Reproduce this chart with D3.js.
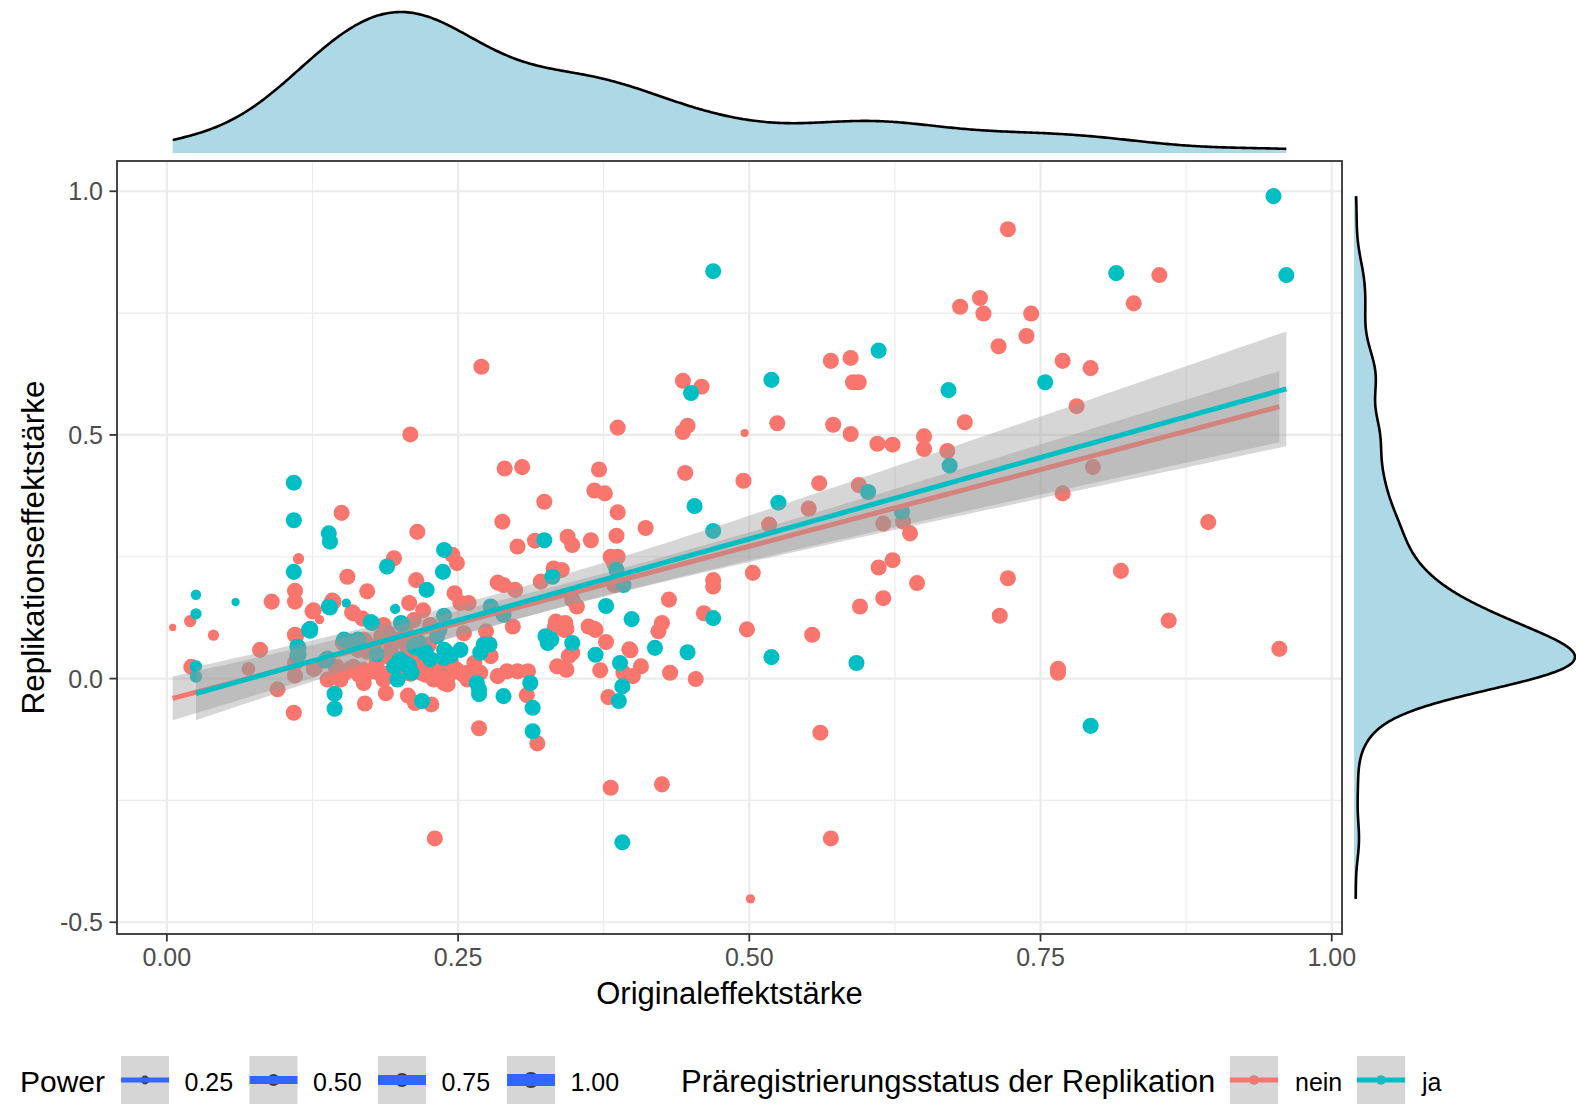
<!DOCTYPE html>
<html>
<head>
<meta charset="utf-8">
<script src="https://cdn.jsdelivr.net/npm/d3@7"></script>
<style>
  html, body { margin: 0; padding: 0; background: #ffffff; }
  svg { display: block; font-family: "Liberation Sans", Arial, Helvetica, sans-serif; }
</style>
</head>
<body>
<svg id="chart" width="1576" height="1104"></svg>
<script>
// Studies without a preregistered replication: [original effect, replication effect, power]
const neinPoints = [
  [0.005,0.105,0.16],[0.020,0.118,0.54],[0.040,0.089,0.44],[0.021,0.024,1],[0.070,0.020,0.7],
  [0.080,0.059,1],[0.090,0.158,1],[0.095,-0.022,1],[0.113,0.246,0.44],[0.110,0.180,1],
  [0.110,0.158,1],[0.110,0.090,1],[0.110,0.032,1],[0.110,0.006,1],[0.109,-0.070,1],
  [0.125,0.138,1],[0.131,0.121,0.28],[0.126,0.020,1],[0.150,0.340,1],[0.142,0.160,1],
  [0.138,-0.002,1],[0.155,0.209,1],[0.159,0.136,1],[0.168,0.123,1],[0.172,0.179,1],
  [0.151,0.073,1],[0.169,0.080,1],[0.164,0.059,1],[0.145,0.022,1],[0.158,0.018,1],
  [0.169,0.018,1],[0.149,-0.002,1],[0.169,-0.009,1],[0.172,0.055,1],[0.184,0.087,1],
  [0.190,0.093,1],[0.195,0.247,1],[0.215,0.301,1],[0.208,0.155,1],[0.214,0.202,1],
  [0.212,0.120,1],[0.204,0.073,1],[0.192,0.059,1],[0.186,-0.002,1],[0.198,0.018,1],
  [0.188,-0.030,1],[0.207,-0.035,1],[0.213,-0.050,1],[0.227,-0.053,1],[0.224,0.018,1],
  [0.229,-0.002,1],[0.238,-0.009,1],[0.245,0.254,1],[0.249,0.237,1],[0.247,0.175,1],
  [0.252,0.155,1],[0.259,0.155,1],[0.255,0.093,1],[0.244,0.032,1],[0.249,0.018,1],
  [0.258,-0.002,1],[0.268,-0.102,1],[0.284,0.197,1],[0.288,0.322,1],[0.290,0.431,1],
  [0.305,0.434,1],[0.301,0.271,1],[0.316,0.283,1],[0.324,0.363,1],[0.299,0.182,1],
  [0.274,0.097,1],[0.278,0.046,1],[0.297,0.107,1],[0.284,0.005,1],[0.292,0.015,1],
  [0.301,0.015,1],[0.310,0.015,1],[0.309,-0.034,1],[0.318,-0.133,1],[0.321,0.199,1],
  [0.371,0.429,1],[0.367,0.386,1],[0.376,0.380,1],[0.387,0.341,1],[0.411,0.309,1],
  [0.386,0.293,1],[0.344,0.291,1],[0.348,0.274,1],[0.364,0.284,1],[0.381,0.250,1],
  [0.387,0.250,1],[0.384,0.236,1],[0.384,0.192,1],[0.332,0.226,1],[0.339,0.223,1],
  [0.289,0.192,1],[0.348,0.162,1],[0.352,0.148,1],[0.431,0.162,1],[0.425,0.114,1],
  [0.422,0.097,1],[0.334,0.117,1],[0.342,0.114,1],[0.333,0.105,1],[0.341,0.100,1],
  [0.362,0.107,1],[0.368,0.100,1],[0.348,0.053,1],[0.345,0.046,1],[0.343,0.018,1],
  [0.377,0.075,1],[0.372,0.017,1],[0.398,0.058,1],[0.407,0.025,1],[0.392,0.012,1],
  [0.400,0.005,1],[0.379,-0.038,1],[0.432,0.012,1],[0.454,-0.001,1],[0.443,0.611,1],
  [0.459,0.599,1],[0.443,0.506,1],[0.447,0.519,1],[0.387,0.515,1],[0.445,0.422,1],
  [0.496,0.504,0.21],[0.495,0.406,1],[0.524,0.524,1],[0.503,0.217,1],[0.469,0.202,1],
  [0.469,0.189,1],[0.461,0.134,1],[0.498,0.101,1],[0.517,0.316,1],[0.551,0.349,1],
  [0.560,0.401,1],[0.570,0.652,1],[0.587,0.658,1],[0.589,0.608,1],[0.594,0.608,1],
  [0.572,0.521,1],[0.587,0.502,1],[0.610,0.482,1],[0.623,0.480,1],[0.650,0.497,1],
  [0.650,0.471,1],[0.670,0.467,1],[0.594,0.397,1],[0.615,0.318,1],[0.632,0.322,1],
  [0.638,0.298,1],[0.611,0.228,1],[0.623,0.243,1],[0.644,0.196,1],[0.595,0.148,1],
  [0.615,0.165,1],[0.554,0.090,1],[0.561,-0.111,1],[0.722,0.922,1],[0.852,0.828,1],
  [0.830,0.770,1],[0.681,0.763,1],[0.698,0.781,1],[0.701,0.749,1],[0.742,0.749,1],
  [0.738,0.703,1],[0.714,0.682,1],[0.769,0.652,1],[0.793,0.637,1],[0.781,0.559,1],
  [0.685,0.526,1],[0.795,0.434,1],[0.769,0.380,1],[0.894,0.321,1],[0.819,0.221,1],
  [0.722,0.206,1],[0.715,0.129,1],[0.860,0.119,1],[0.955,0.061,1],[0.765,0.020,1],
  [0.765,0.012,1],[0.270,0.640,1],[0.209,0.501,1],[0.170,-0.051,1],[0.381,-0.224,1],
  [0.425,-0.217,1],[0.230,-0.328,1],[0.501,-0.452,0.28],[0.570,-0.328,1],[0.205,0.097,1],
  [0.226,0.110,1],[0.172,0.012,1],[0.182,0.012,1],[0.192,0.012,1],[0.204,0.012,1],
  [0.218,0.012,1],[0.232,0.012,1],[0.244,0.012,1],[0.258,0.012,1],[0.269,0.012,1],
  [0.236,0.001,1],[0.254,0.009,1],[0.264,0.032,1],[0.335,0.025,1],[0.241,-0.012,1],
  [0.176,0.015,1],[0.187,0.010,1],[0.197,0.006,1],[0.209,0.010,1],[0.213,0.022,1],
  [0.222,0.008,1],[0.227,0.025,1],[0.238,0.018,1],[0.241,0.004,1],[0.160,0.024,1],
  [0.165,0.008,1],[0.153,0.012,1],[0.180,0.030,1],[0.200,0.034,1],[0.216,0.040,1],
  [0.231,0.036,1],[0.190,0.045,1],[0.207,0.055,1],[0.178,0.066,1],[0.225,0.070,1],
  [0.343,0.102,1],[0.397,0.060,1],[0.367,0.102,1],[0.186,0.110,1],[0.220,0.140,1],
  [0.196,0.080,1],[0.126,0.140,1],[0.143,0.158,1],[0.160,0.134,1],[0.152,0.075,1],
  [0.165,0.061,1],[0.170,0.078,1],[0.146,0.024,1],[0.157,0.020,1],[0.127,0.022,1],
  [0.111,0.088,1],[0.111,0.034,1]
];

// Studies with a preregistered replication: [original effect, replication effect, power]
const jaPoints = [
  [0.025,0.172,0.36],[0.025,0.133,0.44],[0.059,0.157,0.21],[0.025,0.025,0.54],[0.025,0.004,0.54],
  [0.109,0.402,1],[0.109,0.325,1],[0.109,0.219,1],[0.122,0.100,1],[0.137,0.039,1],
  [0.139,0.298,1],[0.140,0.281,1],[0.139,0.148,1],[0.154,0.155,0.28],[0.144,-0.031,1],
  [0.144,-0.062,1],[0.175,0.116,1],[0.152,0.080,1],[0.158,0.076,1],[0.189,0.230,1],
  [0.196,0.143,0.36],[0.201,0.114,1],[0.223,0.182,1],[0.212,0.066,1],[0.204,0.032,1],
  [0.195,0.025,1],[0.207,0.025,1],[0.198,-0.002,1],[0.219,-0.046,1],[0.221,0.053,1],
  [0.238,0.264,1],[0.237,0.219,1],[0.238,0.129,1],[0.232,0.087,1],[0.238,0.059,1],
  [0.238,0.042,1],[0.252,0.059,1],[0.268,-0.022,1],[0.268,-0.032,1],[0.272,0.070,1],
  [0.277,0.070,1],[0.269,0.053,1],[0.289,-0.036,1],[0.312,-0.009,1],[0.314,-0.060,1],
  [0.314,-0.108,1],[0.325,0.087,1],[0.324,0.284,1],[0.289,0.131,1],[0.377,0.149,1],
  [0.399,0.122,1],[0.419,0.063,1],[0.327,0.073,1],[0.348,0.073,1],[0.368,0.049,1],
  [0.389,0.032,1],[0.391,-0.016,1],[0.388,-0.046,1],[0.447,0.054,1],[0.450,0.586,1],
  [0.453,0.354,1],[0.469,0.303,1],[0.519,0.613,1],[0.525,0.361,1],[0.469,0.124,1],
  [0.519,0.044,1],[0.611,0.673,1],[0.671,0.592,1],[0.672,0.437,1],[0.602,0.383,1],
  [0.631,0.342,1],[0.592,0.032,1],[0.950,0.990,1],[0.815,0.832,1],[0.961,0.828,1],
  [0.754,0.608,1],[0.793,-0.097,1],[0.391,-0.336,1],[0.469,0.836,1],[0.278,0.148,1],
  [0.266,-0.009,1],[0.112,0.066,1],[0.112,0.047,1],[0.386,0.223,1],[0.392,0.192,1],
  [0.331,0.209,1],
  [0.200,0.040,1],[0.210,0.012,1],[0.226,0.040,1],[0.244,0.048,1],[0.216,0.075,1],
  [0.180,0.050,1],[0.164,0.080,1],[0.330,0.080,1],[0.234,0.100,1],[0.123,0.098,1],
  [0.138,0.041,1],[0.153,0.078,1],[0.159,0.074,1],[0.176,0.114,1],[0.196,0.027,1],
  [0.205,0.030,1],[0.208,0.027,1],[0.202,0.112,1],[0.213,0.064,1],[0.140,0.146,1],
  [0.113,0.064,1],[0.113,0.049,1],[0.222,0.055,1],[0.239,0.057,1],[0.123,0.102,1],
  [0.136,0.037,1]
];

const groupNames = ["nein", "ja"];
const groupColors = ["#F8766D", "#00BFC4"];

const xTicks = [0, 0.25, 0.5, 0.75, 1];
const xTickLabels = ["0.00", "0.25", "0.50", "0.75", "1.00"];
const xMinorTicks = [0.125, 0.375, 0.625, 0.875];
const yTicks = [-0.5, 0, 0.5, 1];
const yTickLabels = ["-0.5", "0.0", "0.5", "1.0"];
const yMinorTicks = [-0.25, 0.25, 0.75];

const powerBreaks = [0.25, 0.5, 0.75, 1];
const powerLabels = ["0.25", "0.50", "0.75", "1.00"];
const powerLimits = [0.05, 1];

const xTitle = "Originaleffektstärke";
const yTitle = "Replikationseffektstärke";
const powerTitle = "Power";
const groupTitle = "Präregistrierungsstatus der Replikation";

// ---------------------------------------------------------------- layout
const W = 1576, H = 1104;
const panel = { left: 117, right: 1342, top: 161, bottom: 934 };
const topMargin = { base: 153, peak: 12 };
const rightMargin = { base: 1354, peak: 1575 };

const svg = d3.select("#chart");
svg.append("rect").attr("width", W).attr("height", H).attr("fill", "#ffffff");

const groups = [neinPoints, jaPoints].map((pts, g) =>
  pts.map(([x, y, p]) => ({ x, y, p, g })));
const all = groups.flat();

// ggplot-style 5% expansion of the data range
function expand([a, b]) { const d = (b - a) * 0.05; return [a - d, b + d]; }
const x = d3.scaleLinear().domain(expand(d3.extent(all, d => d.x))).range([panel.left, panel.right]);
const y = d3.scaleLinear().domain(expand(d3.extent(all, d => d.y))).range([panel.bottom, panel.top]);

// area-proportional size scale (ggplot size units), then to pixels
const sizeUnits = p => 1 + 5 * Math.sqrt(Math.max(0, (p - powerLimits[0]) / (powerLimits[1] - powerLimits[0])));
const radius = p => sizeUnits(p) * 1.34;

// ---------------------------------------------------------------- grid
const grid = svg.append("g");
grid.selectAll(".xminor").data(xMinorTicks).join("line")
  .attr("x1", d => x(d)).attr("x2", d => x(d)).attr("y1", panel.top).attr("y2", panel.bottom)
  .attr("stroke", "#EBEBEB").attr("stroke-width", 1.1);
grid.selectAll(".yminor").data(yMinorTicks).join("line")
  .attr("y1", d => y(d)).attr("y2", d => y(d)).attr("x1", panel.left).attr("x2", panel.right)
  .attr("stroke", "#EBEBEB").attr("stroke-width", 1.1);
grid.selectAll(".xmajor").data(xTicks).join("line")
  .attr("x1", d => x(d)).attr("x2", d => x(d)).attr("y1", panel.top).attr("y2", panel.bottom)
  .attr("stroke", "#EBEBEB").attr("stroke-width", 2.2);
grid.selectAll(".ymajor").data(yTicks).join("line")
  .attr("y1", d => y(d)).attr("y2", d => y(d)).attr("x1", panel.left).attr("x2", panel.right)
  .attr("stroke", "#EBEBEB").attr("stroke-width", 2.2);

svg.append("clipPath").attr("id", "panelClip").append("rect")
  .attr("x", panel.left).attr("y", panel.top)
  .attr("width", panel.right - panel.left).attr("height", panel.bottom - panel.top);
const plot = svg.append("g").attr("clip-path", "url(#panelClip)");

// ---------------------------------------------------------------- points
plot.append("g").selectAll("circle").data(all).join("circle")
  .attr("cx", d => x(d.x)).attr("cy", d => y(d.y)).attr("r", d => radius(d.p))
  .attr("fill", d => groupColors[d.g]);

// ---------------------------------------------------------------- linear fits with 95% band
function tQuantile975(df) {
  const z = 1.959964;
  return z + (z ** 3 + z) / (4 * df) + (5 * z ** 5 + 16 * z ** 3 + 3 * z) / (96 * df * df);
}
function linearFit(pts) {
  const n = pts.length;
  const mx = d3.mean(pts, d => d.x), my = d3.mean(pts, d => d.y);
  const sxx = d3.sum(pts, d => (d.x - mx) ** 2);
  const sxy = d3.sum(pts, d => (d.x - mx) * (d.y - my));
  const b = sxy / sxx, a = my - b * mx;
  const sse = d3.sum(pts, d => (d.y - a - b * d.x) ** 2);
  const s = Math.sqrt(sse / (n - 2));
  const t = tQuantile975(n - 2);
  const [lo, hi] = d3.extent(pts, d => d.x);
  return d3.range(80).map(i => {
    const xv = lo + (hi - lo) * i / 79;
    const fit = a + b * xv;
    const se = s * Math.sqrt(1 / n + (xv - mx) ** 2 / sxx);
    return { x: xv, fit, lo: fit - t * se, hi: fit + t * se };
  });
}

const ribbon = d3.area().x(d => x(d.x)).y0(d => y(d.lo)).y1(d => y(d.hi));
const fitLine = d3.line().x(d => x(d.x)).y(d => y(d.fit));
groups.forEach((pts, g) => {
  const curve = linearFit(pts);
  plot.append("path").attr("d", ribbon(curve)).attr("fill", "#999999").attr("fill-opacity", 0.4);
  plot.append("path").attr("d", fitLine(curve)).attr("fill", "none")
    .attr("stroke", groupColors[g]).attr("stroke-width", 5);
});

// ---------------------------------------------------------------- panel border and axes
svg.append("rect").attr("x", panel.left).attr("y", panel.top)
  .attr("width", panel.right - panel.left).attr("height", panel.bottom - panel.top)
  .attr("fill", "none").attr("stroke", "#333333").attr("stroke-width", 1.8);

const axes = svg.append("g");
axes.selectAll(".xt").data(xTicks).join("line")
  .attr("x1", d => x(d)).attr("x2", d => x(d)).attr("y1", panel.bottom).attr("y2", panel.bottom + 7.5)
  .attr("stroke", "#333333").attr("stroke-width", 1.8);
axes.selectAll(".xl").data(xTicks).join("text")
  .attr("x", d => x(d)).attr("y", 966).attr("text-anchor", "middle")
  .attr("font-size", 25).attr("fill", "#4D4D4D").text((d, i) => xTickLabels[i]);
axes.selectAll(".yt").data(yTicks).join("line")
  .attr("y1", d => y(d)).attr("y2", d => y(d)).attr("x1", panel.left - 7.5).attr("x2", panel.left)
  .attr("stroke", "#333333").attr("stroke-width", 1.8);
axes.selectAll(".yl").data(yTicks).join("text")
  .attr("x", 103).attr("y", d => y(d) + 9).attr("text-anchor", "end")
  .attr("font-size", 25).attr("fill", "#4D4D4D").text((d, i) => yTickLabels[i]);

svg.append("text").attr("x", (panel.left + panel.right) / 2).attr("y", 1004)
  .attr("text-anchor", "middle").attr("font-size", 31).attr("fill", "#000").text(xTitle);
svg.append("text").attr("transform", `translate(44,${(panel.top + panel.bottom) / 2}) rotate(-90)`)
  .attr("text-anchor", "middle").attr("font-size", 31.5).attr("fill", "#000").text(yTitle);

// ---------------------------------------------------------------- marginal densities
function bwNrd0(v) {
  const sd = d3.deviation(v);
  const s = v.slice().sort(d3.ascending);
  const iqr = d3.quantileSorted(s, 0.75) - d3.quantileSorted(s, 0.25);
  return 0.9 * Math.min(sd, iqr / 1.34) * Math.pow(v.length, -0.2);
}
function kde(v) {
  const bw = bwNrd0(v);
  const [lo, hi] = d3.extent(v);
  const k = 1 / (Math.sqrt(2 * Math.PI) * bw * v.length);
  return d3.range(512).map(i => {
    const t = lo + (hi - lo) * i / 511;
    return { v: t, d: k * d3.sum(v, u => Math.exp(-0.5 * ((t - u) / bw) ** 2)) };
  });
}

const xDens = kde(all.map(d => d.x));
const topY = d3.scaleLinear().domain([0, d3.max(xDens, d => d.d)]).range([topMargin.base, topMargin.peak]);
svg.append("path").attr("fill", "#ADD8E6")
  .attr("d", d3.area().x(d => x(d.v)).y0(topMargin.base).y1(d => topY(d.d))(xDens));
svg.append("path").attr("fill", "none").attr("stroke", "#000").attr("stroke-width", 2.6)
  .attr("d", d3.line().x(d => x(d.v)).y(d => topY(d.d))(xDens));

const yDens = kde(all.map(d => d.y));
const rightX = d3.scaleLinear().domain([0, d3.max(yDens, d => d.d)]).range([rightMargin.base, rightMargin.peak]);
svg.append("path").attr("fill", "#ADD8E6")
  .attr("d", d3.area().y(d => y(d.v)).x0(rightMargin.base).x1(d => rightX(d.d))(yDens));
svg.append("path").attr("fill", "none").attr("stroke", "#000").attr("stroke-width", 2.6)
  .attr("d", d3.line().y(d => y(d.v)).x(d => rightX(d.d))(yDens));

// ---------------------------------------------------------------- legends
const legend = svg.append("g");
const keyTop = 1056, keySize = 48, legendBase = 1092;

legend.append("text").attr("x", 20).attr("y", legendBase).attr("font-size", 30).text(powerTitle);
const powerKeyX = [121, 249.5, 378, 507];
powerBreaks.forEach((p, i) => {
  const kx = powerKeyX[i], cy = keyTop + keySize / 2;
  legend.append("rect").attr("x", kx).attr("y", keyTop).attr("width", keySize).attr("height", keySize).attr("fill", "#ffffff");
  legend.append("circle").attr("cx", kx + keySize / 2).attr("cy", cy).attr("r", radius(p)).attr("fill", "#000");
  legend.append("rect").attr("x", kx).attr("y", keyTop).attr("width", keySize).attr("height", keySize)
    .attr("fill", "#999999").attr("fill-opacity", 0.4);
  legend.append("line").attr("x1", kx).attr("x2", kx + keySize).attr("y1", cy).attr("y2", cy)
    .attr("stroke", "#3366FF").attr("stroke-width", Math.max(2, 2 * radius(p) - 4));
  legend.append("text").attr("x", kx + 63.5).attr("y", legendBase - 1).attr("font-size", 25).text(powerLabels[i]);
});

legend.append("text").attr("x", 681).attr("y", legendBase).attr("font-size", 31).text(groupTitle);
const groupKeyX = [1230, 1357];
groupNames.forEach((name, i) => {
  const kx = groupKeyX[i], cy = keyTop + keySize / 2;
  legend.append("rect").attr("x", kx).attr("y", keyTop).attr("width", keySize).attr("height", keySize).attr("fill", "#ffffff");
  legend.append("circle").attr("cx", kx + keySize / 2).attr("cy", cy).attr("r", 4.8).attr("fill", groupColors[i]);
  legend.append("rect").attr("x", kx).attr("y", keyTop).attr("width", keySize).attr("height", keySize)
    .attr("fill", "#999999").attr("fill-opacity", 0.4);
  legend.append("line").attr("x1", kx).attr("x2", kx + keySize).attr("y1", cy).attr("y2", cy)
    .attr("stroke", groupColors[i]).attr("stroke-width", 5);
  legend.append("text").attr("x", kx + 65).attr("y", legendBase - 1).attr("font-size", 25).text(name);
});
</script>
</body>
</html>
